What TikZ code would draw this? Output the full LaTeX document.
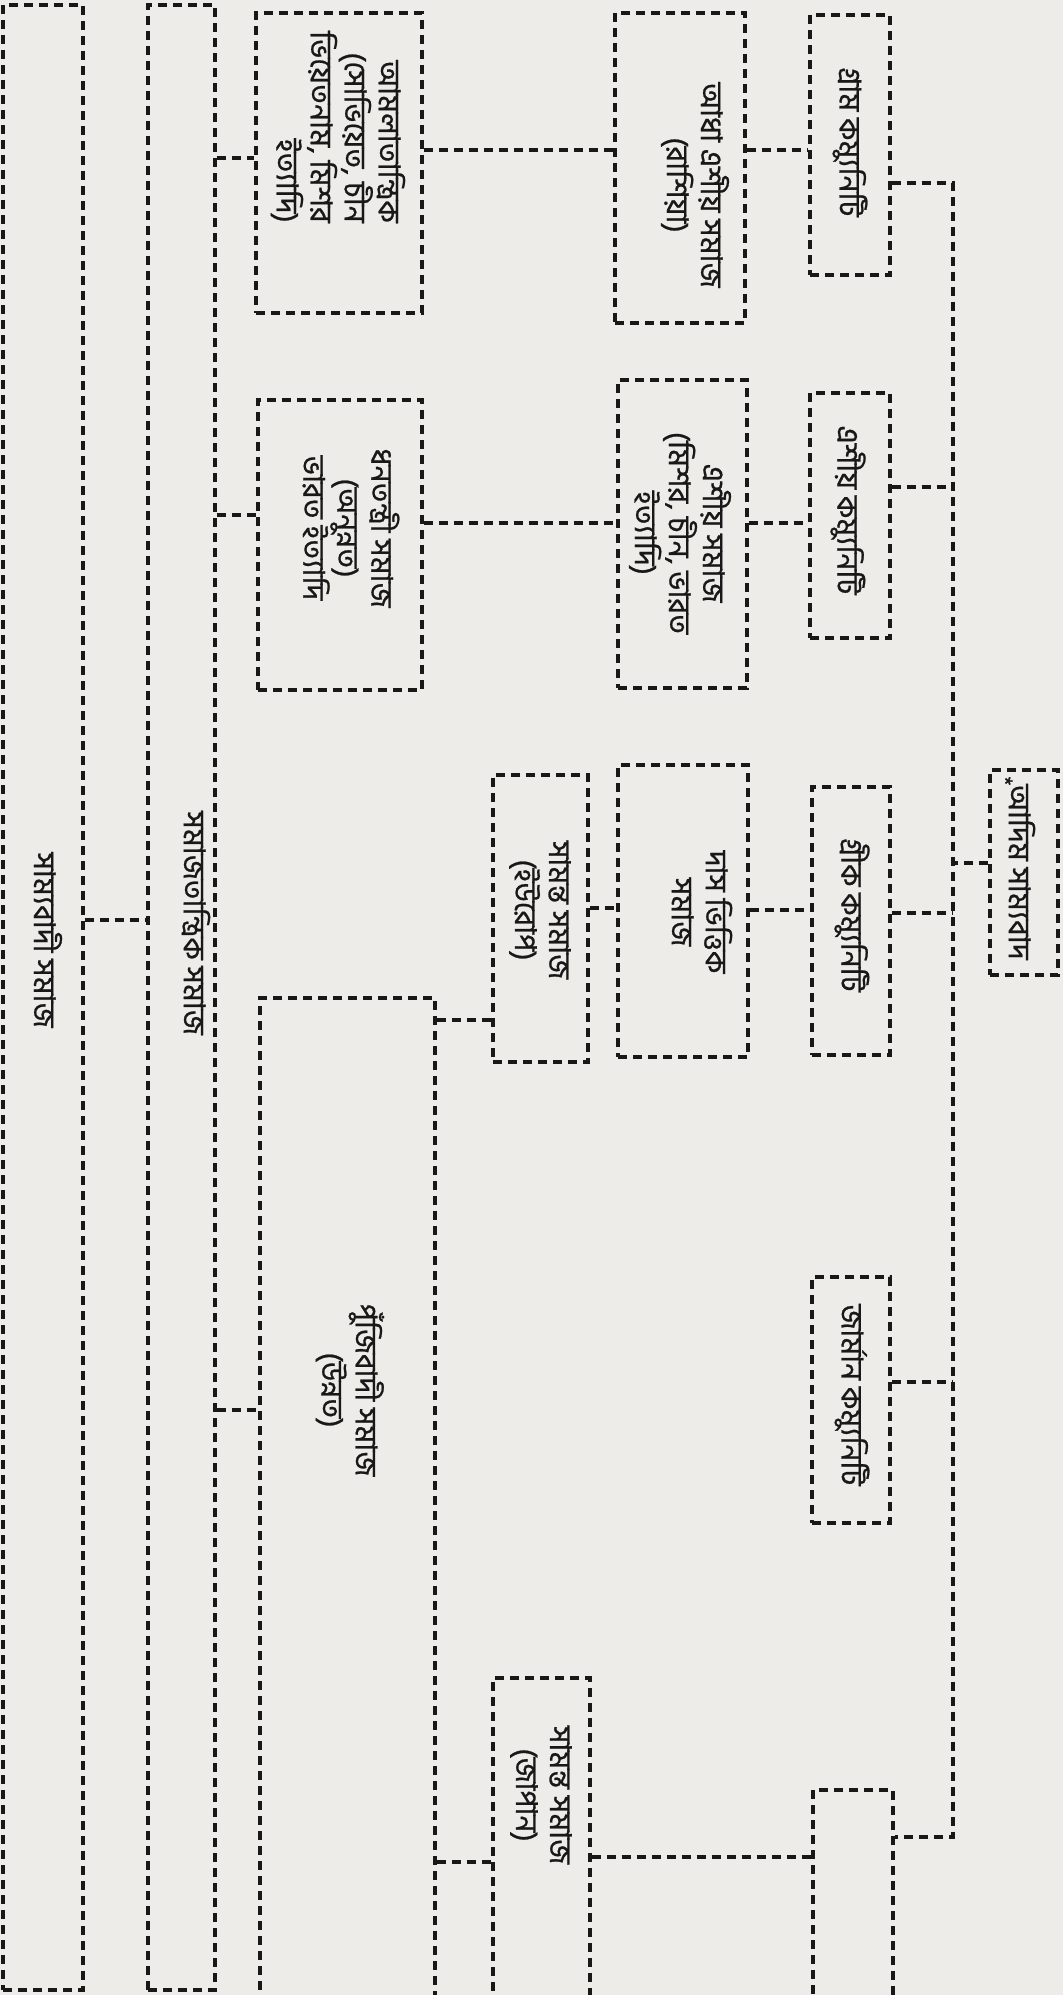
\documentclass[tikz,border=0pt]{standalone}
\usepackage{fontspec}
\newfontfamily\bn[Script=Bengali,FakeBold=0.8]{Hind Siliguri}
\definecolor{paper}{RGB}{237,236,232}
\definecolor{ink}{RGB}{24,24,24}
\tikzset{
  box/.style={draw=ink, line width=1.6pt, dash pattern=on 4.5pt off 3pt, inner sep=0pt, rectangle},
  link/.style={draw=ink, line width=1.6pt, dash pattern=on 4.5pt off 3pt},
  lbl/.style={rotate=-90, align=center, text=ink, font=\bn\fontsize{15}{17}\selectfont, inner sep=0pt},
}
\newcommand\mkbox[5]{\node[box, minimum width={(#4-#2)*0.5pt}, minimum height={(#5-#3)*0.5pt}] (#1) at ({(#2+#4)/2},{(#3+#5)/2}) {};}
\begin{document}
\begin{tikzpicture}[x=0.5pt,y=-0.5pt]
\fill[paper] (0,0) rectangle (1063,1995);
\useasboundingbox (0,0) rectangle (1063,1995);
% boxes
\mkbox{c5}{3}{5}{83}{1990}
\mkbox{c4}{148}{5}{215}{1990}
\mkbox{aml}{256}{13}{422}{313}
\mkbox{dhn}{258}{400}{422}{690}
\mkbox{puj}{260}{998}{435}{2050}
\mkbox{eur}{493}{775}{588}{1062}
\mkbox{jap}{493}{1678}{590}{2050}
\mkbox{adha}{615}{13}{745}{323}
\mkbox{esh}{618}{380}{747}{688}
\mkbox{das}{618}{765}{748}{1057}
\mkbox{gram}{810}{15}{890}{275}
\mkbox{eshc}{810}{393}{890}{638}
\mkbox{grk}{812}{787}{890}{1055}
\mkbox{jar}{812}{1277}{890}{1523}
\mkbox{bot}{813}{1790}{893}{2050}
\mkbox{adim}{990}{770}{1058}{975}
% labels
\node[lbl] (t-c5) at (48,940) {সাম্যবাদী সমাজ};
\node[lbl] (t-c4) at (196,923) {সমাজতান্ত্রিক সমাজ};
\node[lbl, align=right] (t-aml) at (338,127) {আমলাতান্ত্রিক\\(সোভিয়েত, চীন\\ভিয়েতনাম, মিশর\\ইত্যাদি)};
\node[lbl] (t-dhn) at (351,528) {ধনতন্ত্রী সমাজ\\(অনুন্নত)\\ভারত ইত্যাদি};
\node[lbl] (t-puj) at (350,1390) {পুঁজিবাদী সমাজ\\(উন্নত)};
\node[lbl] (t-eur) at (540,910) {সামন্ত সমাজ\\(ইউরোপ)};
\node[lbl] (t-jap) at (541,1795) {সামন্ত সমাজ\\(জাপান)};
\node[lbl] (t-adha) at (695,185) {আধা এশীয় সমাজ\\(রাশিয়া)};
\node[lbl] (t-esh) at (680,533) {এশীয় সমাজ\\(মিশর, চীন, ভারত\\ইত্যাদি)};
\node[lbl] (t-das) at (702,912) {দাস ভিত্তিক\\সমাজ};
\node[lbl] (t-gram) at (850,142) {গ্রাম কম্যুনিটি};
\node[lbl] (t-eshc) at (848,510) {এশীয় কম্যুনিটি};
\node[lbl] (t-grk) at (852,915) {গ্রীক কম্যুনিটি};
\node[lbl] (t-jar) at (852,1395) {জার্মান কম্যুনিটি};
\node[lbl] (t-adim) at (1022,872) {আদিম সাম্যবাদ};
\node[lbl, font=\bn\fontsize{11}{12}\selectfont] (t-star) at (1005,781) {*};
% connectors
\draw[link] (c5.east |- 0,920) -- (c4.west |- 0,920);
\draw[link] (c4.east |- 0,158) -- (aml.west |- 0,158);
\draw[link] (c4.east |- 0,515) -- (dhn.west |- 0,515);
\draw[link] (c4.east |- 0,1410) -- (puj.west |- 0,1410);
\draw[link] (aml.east |- 0,150) -- (adha.west |- 0,150);
\draw[link] (dhn.east |- 0,523) -- (esh.west |- 0,523);
\draw[link] (puj.east |- 0,1020) -- (eur.west |- 0,1020);
\draw[link] (puj.east |- 0,1862) -- (jap.west |- 0,1862);
\draw[link] (eur.east |- 0,908) -- (das.west |- 0,908);
\draw[link] (adha.east |- 0,150) -- (gram.west |- 0,150);
\draw[link] (esh.east |- 0,523) -- (eshc.west |- 0,523);
\draw[link] (das.east |- 0,910) -- (grk.west |- 0,910);
\draw[link] (jap.east |- 0,1857) -- (bot.west |- 0,1857);
\coordinate (trT) at (953,183);
\coordinate (trB) at (953,1837);
\draw[link] (gram.east |- trT) -- (trT) -- (trB) -- (bot.east |- trB);
\draw[link] (eshc.east |- 0,487) -- (trT |- 0,487);
\draw[link] (grk.east |- 0,913) -- (trT |- 0,913);
\draw[link] (jar.east |- 0,1382) -- (trT |- 0,1382);
\draw[link] (adim.west |- 0,863) -- (trT |- 0,863);
\end{tikzpicture}
\end{document}
